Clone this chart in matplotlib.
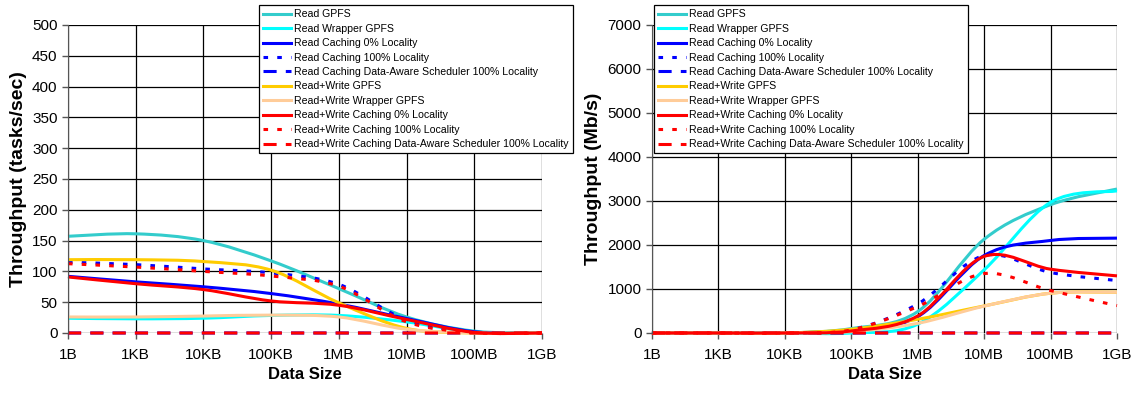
import matplotlib
matplotlib.use('Agg')
import matplotlib.pyplot as plt
from matplotlib.path import Path
from matplotlib.patches import PathPatch
from matplotlib.lines import Line2D
import numpy as np

plt.rcParams['font.family'] = ['Liberation Sans', 'DejaVu Sans']

# x categories
sizes = ['1B', '1KB', '10KB', '100KB', '1MB', '10MB', '100MB', '1GB']

series_names = [
    'Read GPFS',
    'Read Wrapper GPFS',
    'Read Caching 0% Locality',
    'Read Caching 100% Locality',
    'Read Caching Data-Aware Scheduler 100% Locality',
    'Read+Write GPFS',
    'Read+Write Wrapper GPFS',
    'Read+Write Caching 0% Locality',
    'Read+Write Caching 100% Locality',
    'Read+Write Caching Data-Aware Scheduler 100% Locality',
]

# left panel: throughput in tasks/sec
tasks_read_gpfs      = [157, 161, 150, 117, 72, 26, 3, 0]
tasks_read_wrapper   = [24, 23, 24, 28.5, 28.5, 18, 1.5, 0]
tasks_read_cache0    = [92, 83, 75, 64, 47, 23.5, 2, 0]
tasks_read_cache100  = [115, 111, 104, 97.5, 79, 21, 1, 0]
tasks_read_aware     = [0, 0, 0, 0, 0, 0, 0, 0]
tasks_rw_gpfs        = [119, 119, 116, 102, 49, 7.5, 0, 0]
tasks_rw_wrapper     = [26, 26, 27.5, 29, 26, 6, 0, 0]
tasks_rw_cache0      = [91, 80, 70.5, 52, 45, 22, 1, 0]
tasks_rw_cache100    = [112.5, 107, 100, 92.5, 76, 18, 0.5, 0]
tasks_rw_aware       = [0, 0, 0, 0, 0, 0, 0, 0]

# right panel: throughput in Mb/s
mbps_read_gpfs       = [0, 0, 0, 100, 486, 2130, 2916, 3272]
mbps_read_wrapper    = [0, 0, 0, 0, 200, 1435, 2970, 3230]
mbps_read_cache0     = [0, 0, 0, 70, 372, 1760, 2103, 2156]
mbps_read_cache100   = [0, 0, 0, 70, 660, 1760, 1374, 1192]
mbps_read_aware      = [0, 0, 0, 0, 0, 0, 0, 0]
mbps_rw_gpfs         = [0, 0, 0, 84, 311, 615, 904, 926]
mbps_rw_wrapper      = [0, 0, 0, 30, 220, 610, 904, 926]
mbps_rw_cache0       = [0, 0, 0, 46, 387, 1740, 1450, 1298]
mbps_rw_cache100     = [0, 0, 0, 70, 600, 1350, 964, 622]
mbps_rw_aware        = [0, 0, 0, 0, 0, 0, 0, 0]

tasks = [tasks_read_gpfs, tasks_read_wrapper, tasks_read_cache0, tasks_read_cache100,
         tasks_read_aware, tasks_rw_gpfs, tasks_rw_wrapper, tasks_rw_cache0,
         tasks_rw_cache100, tasks_rw_aware]
mbps = [mbps_read_gpfs, mbps_read_wrapper, mbps_read_cache0, mbps_read_cache100,
        mbps_read_aware, mbps_rw_gpfs, mbps_rw_wrapper, mbps_rw_cache0,
        mbps_rw_cache100, mbps_rw_aware]

colors = ['#33CCCC', '#00FFFF', '#0000FF', '#0000FF', '#0000FF',
          '#FFCC00', '#FFCC99', '#FF0000', '#FF0000', '#FF0000']
solid = '-'
dots = (0, (1.5, 3))
dash = (0, (4.3, 3))
styles = [solid, solid, solid, dots, dash, solid, solid, solid, dots, dash]
LW = 2.2


def smooth_path(y):
    # Excel-like smoothed line: cubic bezier through each point
    pts = np.column_stack([np.arange(len(y)), np.asarray(y, float)])
    n = len(pts)
    verts = [pts[0]]
    codes = [Path.MOVETO]
    for i in range(n - 1):
        p0 = pts[max(i - 1, 0)]
        p1 = pts[i]
        p2 = pts[i + 1]
        p3 = pts[min(i + 2, n - 1)]
        verts += [p1 + (p2 - p0) / 6, p2 - (p3 - p1) / 6, p2]
        codes += [Path.CURVE4] * 3
    return Path(verts, codes)


def draw_panel(ax, data, ymax, ystep, ylabel, label_x):
    ax.set_xlim(0, len(sizes) - 1)
    ax.set_ylim(0, ymax)
    for vals, c, ls in zip(data, colors, styles):
        ax.add_patch(PathPatch(smooth_path(vals), fill=False, edgecolor=c,
                               lw=LW, linestyle=ls, zorder=2, clip_on=False))
    ax.set_xticks(range(len(sizes)))
    ax.set_xticklabels(sizes)
    ax.set_yticks(np.arange(0, ymax + 1, ystep))
    ax.grid(True, color='black', lw=0.9)
    ax.set_axisbelow(True)
    for s in ['top', 'right']:
        ax.spines[s].set_visible(False)
    ax.spines['left'].set_color('#555555')
    ax.spines['bottom'].set_visible(False)
    ax.tick_params(axis='both', direction='out', length=4.5, width=1,
                   color='#555555', labelsize=11)
    ax.tick_params(axis='x', pad=6)
    ax.tick_params(axis='y', pad=3)
    ax.set_xlabel('Data Size', fontsize=12, fontweight='bold', labelpad=4)
    ax.set_ylabel(ylabel, fontsize=14, fontweight='bold')
    ax.yaxis.set_label_coords(label_x, 0.5)


fig = plt.figure(figsize=(11.37, 3.93), dpi=100)
ax1 = fig.add_axes([0.0598, 0.1527, 0.4169, 0.7837])
ax2 = fig.add_axes([0.5734, 0.1527, 0.4090, 0.7837])

draw_panel(ax1, tasks, 500, 50, 'Throughput (tasks/sec)', -0.087)
draw_panel(ax2, mbps, 7000, 1000, 'Throughput (Mb/s)', -0.108)

handles = [Line2D([], [], color=c, lw=LW, linestyle=ls) for c, ls in zip(colors, styles)]
for anchor in [(0.2278, 0.987), (0.5752, 0.987)]:
    leg = fig.legend(handles, series_names, loc='upper left', bbox_to_anchor=anchor,
                     fontsize=7.6, frameon=True, fancybox=False, framealpha=1,
                     edgecolor='black', handlelength=2.65, handletextpad=0.25,
                     labelspacing=0.42, borderpad=0.4, borderaxespad=0)
    leg.get_frame().set_linewidth(0.9)

fig.savefig('out.png', dpi=100)
